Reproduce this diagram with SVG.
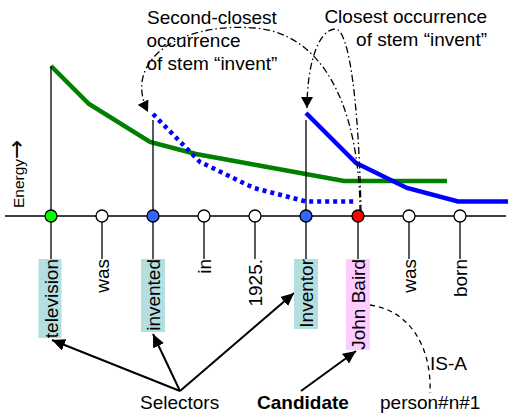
<svg xmlns="http://www.w3.org/2000/svg" width="508" height="416" viewBox="0 0 508 416">
<style>
text{font-family:"Liberation Sans",Arial,sans-serif;font-size:19px;fill:#000}
.rot{text-anchor:end}
.thin{stroke:#000;stroke-width:1.3;fill:none}
.node{stroke:#000;stroke-width:1.3}
.dd{stroke:#000;stroke-width:1.3;fill:none;stroke-dasharray:7 3 1.5 3}
.arr{stroke:#000;stroke-width:2;fill:none}
</style>
<defs>
<marker id="ah" markerUnits="userSpaceOnUse" markerWidth="14" markerHeight="12" refX="13" refY="6" orient="auto">
<path d="M0,0 L13,6 L0,12 z" fill="#000"/>
</marker>
<marker id="ahs" markerUnits="userSpaceOnUse" markerWidth="12" markerHeight="12" refX="11" refY="6" orient="auto">
<path d="M0,0 L11,6 L0,12 z" fill="#000"/>
</marker>
</defs>

<g id="energy-label"><text transform="translate(24,208) rotate(-90)" style="font-size:15.5px">Energy<tspan style="font-family:'DejaVu Sans',sans-serif;font-size:23px">→</tspan></text></g>

<g id="curves">
<polyline points="51,66 89,104 150,142 196,154 344,181 447,181" fill="none" stroke="#008000" stroke-width="4.5"/>
<polyline points="153,114 200,162 254,188 306,201.5 357,201.5" fill="none" stroke="#0000ff" stroke-width="4.5" stroke-dasharray="4 4"/>
<polyline points="306,113 356,163 407,188 458,201.5 508,201.5" fill="none" stroke="#0000ff" stroke-width="4.5"/>
</g>

<g id="connectors">
<line class="thin" x1="5" y1="216" x2="506" y2="216"/>
<line class="thin" x1="51" y1="66" x2="51" y2="216"/>
<line class="thin" x1="153" y1="120" x2="153" y2="216"/>
<line class="thin" x1="306" y1="120" x2="306" y2="216"/>
<line class="thin" x1="51" y1="216" x2="51" y2="259"/>
<line class="thin" x1="102" y1="216" x2="102" y2="259"/>
<line class="thin" x1="153" y1="216" x2="153" y2="259"/>
<line class="thin" x1="204" y1="216" x2="204" y2="259"/>
<line class="thin" x1="255" y1="216" x2="255" y2="259"/>
<line class="thin" x1="306" y1="216" x2="306" y2="259"/>
<line class="thin" x1="358" y1="216" x2="358" y2="259"/>
<line class="thin" x1="409" y1="216" x2="409" y2="259"/>
<line class="thin" x1="460" y1="216" x2="460" y2="259"/>
<path class="dd" d="M360,212 C360,130 335,35 255,28 C180,22 122,60 148,112" marker-end="url(#ahs)"/>
<path class="dd" d="M361,212 C359,110 350,28 335,29 C318,30 307,65 307,108" marker-end="url(#ahs)"/>
<path class="thin" d="M370,305 C408,310 432,345 430,393" stroke-dasharray="5 4"/>
<line class="arr" x1="180" y1="391" x2="52" y2="340" marker-end="url(#ah)"/>
<line class="arr" x1="180" y1="391" x2="153" y2="334" marker-end="url(#ah)"/>
<line class="arr" x1="180" y1="391" x2="294" y2="293" marker-end="url(#ah)"/>
<line class="arr" x1="301" y1="391" x2="356" y2="351" marker-end="url(#ah)"/>
</g>

<g id="nodes">
<circle class="node" cx="51" cy="216" r="6" fill="#00ff00"/>
<circle class="node" cx="102" cy="216" r="6" fill="#fff"/>
<circle class="node" cx="153" cy="216" r="6" fill="#3366ff"/>
<circle class="node" cx="204" cy="216" r="6" fill="#fff"/>
<circle class="node" cx="255" cy="216" r="6" fill="#fff"/>
<circle class="node" cx="306" cy="216" r="6" fill="#3366ff"/>
<circle class="node" cx="358" cy="216" r="6" fill="#ff0000"/>
<circle class="node" cx="409" cy="216" r="6" fill="#fff"/>
<circle class="node" cx="460" cy="216" r="6" fill="#fff"/>
</g>

<g id="word-television"><rect x="38.5" y="259" width="23" height="79" fill="#b4dfe0"/><text class="rot" transform="translate(58,259) rotate(-90)">television</text></g>
<g id="word-was1"><text class="rot" transform="translate(109,259) rotate(-90)">was</text></g>
<g id="word-invented"><rect x="141" y="259" width="24" height="73" fill="#b4dfe0"/><text class="rot" transform="translate(160,259) rotate(-90)">invented</text></g>
<g id="word-in"><text class="rot" transform="translate(211,259) rotate(-90)">in</text></g>
<g id="word-1925"><text class="rot" transform="translate(262,259) rotate(-90)">1925.</text></g>
<g id="word-inventor"><rect x="294" y="259" width="24" height="70" fill="#b4dfe0"/><text class="rot" transform="translate(313,259) rotate(-90)">Inventor</text></g>
<g id="word-johnbaird"><rect x="346" y="259" width="24" height="91" fill="#ffccff"/><text class="rot" transform="translate(365,259) rotate(-90)">John Baird</text></g>
<g id="word-was2"><text class="rot" transform="translate(416,259) rotate(-90)">was</text></g>
<g id="word-born"><text class="rot" transform="translate(467,259) rotate(-90)">born</text></g>

<g id="note-second"><text x="147" y="24">Second-closest</text><text x="146.5" y="47">occurrence</text><text x="146.5" y="70">of stem “invent”</text></g>
<g id="note-closest"><text x="487" y="22.5" text-anchor="end">Closest occurrence</text><text x="487" y="45.5" text-anchor="end">of stem “invent”</text></g>
<g id="selectors"><text x="140" y="409">Selectors</text></g>
<g id="candidate"><text x="257" y="409" style="font-weight:bold">Candidate</text></g>
<g id="isa"><text x="430" y="370">IS-A</text></g>
<g id="person"><text x="380" y="409">person#n#1</text></g>
</svg>
